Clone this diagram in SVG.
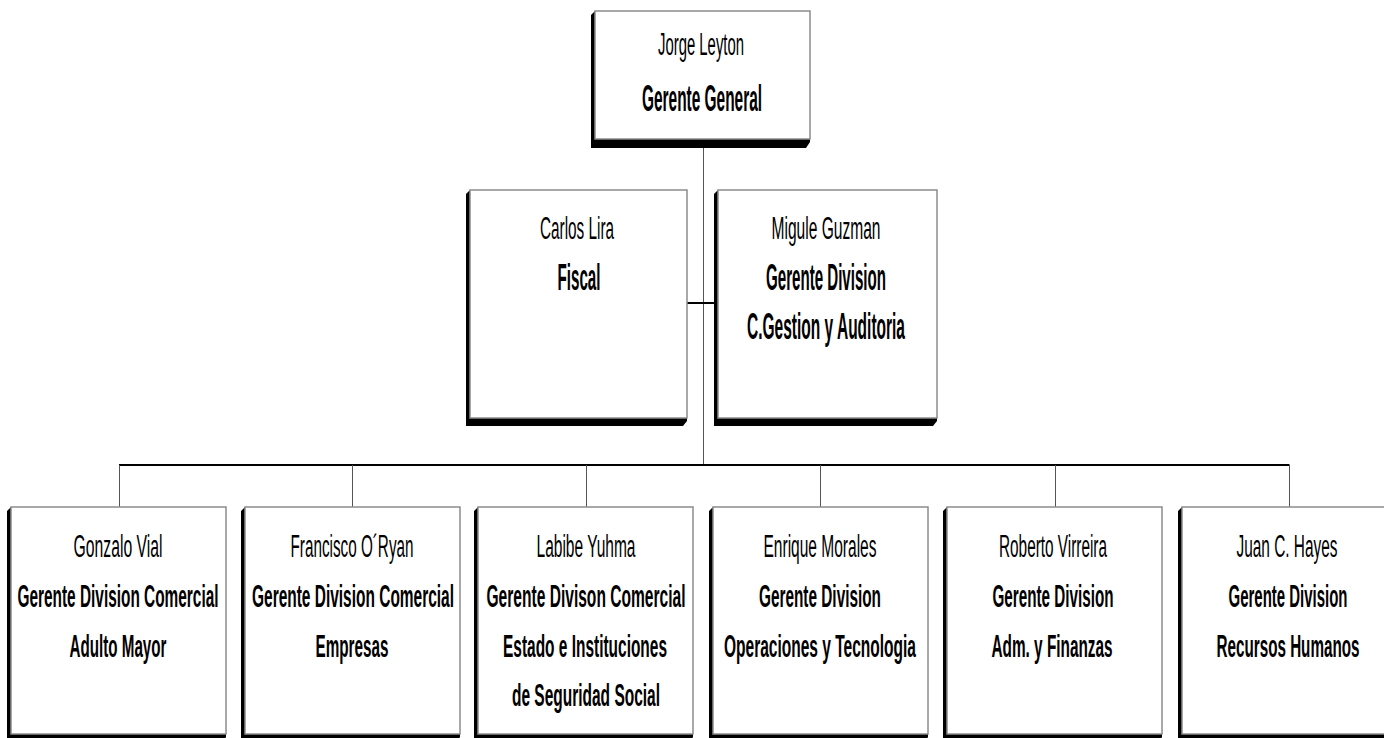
<svg xmlns="http://www.w3.org/2000/svg" width="1384" height="738" viewBox="0 0 1384 738">
  <style>
    .box { fill: #ffffff; stroke: #8c8c8c; stroke-width: 1.5; }
    .shadow { fill: #000000; }
    .name { font-family: "Liberation Sans", Arial, sans-serif; font-size: 31px; fill: #000; text-anchor: middle; }
    .title { font-family: "Liberation Sans", Arial, sans-serif; font-size: 31px; font-weight: bold; fill: #000; text-anchor: middle; }
    .big { font-size: 36px; }
    .bus { stroke: #000; stroke-width: 2; fill: none; }
    .drop { stroke: #555; stroke-width: 1; fill: none; }
  </style>

  <!-- connectors -->
  <g id="connectors">
    <line class="drop" x1="703.5" y1="148" x2="703.5" y2="465"/>
    <line class="bus" x1="687" y1="303" x2="718" y2="303"/>
    <line class="bus" x1="119" y1="465" x2="1289.5" y2="465"/>
    <line class="drop" x1="119.5" y1="465" x2="119.5" y2="507"/>
    <line class="drop" x1="352.5" y1="465" x2="352.5" y2="507"/>
    <line class="drop" x1="586.5" y1="465" x2="586.5" y2="507"/>
    <line class="drop" x1="820.5" y1="465" x2="820.5" y2="507"/>
    <line class="drop" x1="1055.5" y1="465" x2="1055.5" y2="507"/>
    <line class="drop" x1="1289.5" y1="465" x2="1289.5" y2="507"/>
  </g>

  <!-- top level -->
  <g id="node-leyton">
    <polygon class="shadow" points="591,15 595,11 595,139 810,139 810,142 806,148 591,148"/>
    <rect class="box" x="595" y="11" width="215" height="128"/>
    <text class="name" x="701" y="55" textLength="86" lengthAdjust="spacingAndGlyphs">Jorge Leyton</text>
    <text class="title big" x="702" y="111" textLength="120" lengthAdjust="spacingAndGlyphs">Gerente General</text>
  </g>

  <!-- staff level -->
  <g id="node-lira">
    <polygon class="shadow" points="466,194 470,190 470,418 687,418 687,421 683,426 466,426"/>
    <rect class="box" x="470" y="190" width="217" height="228"/>
    <text class="name" x="577" y="239" textLength="74" lengthAdjust="spacingAndGlyphs">Carlos Lira</text>
    <text class="title big" x="579" y="290" textLength="43" lengthAdjust="spacingAndGlyphs">Fiscal</text>
  </g>
  <g id="node-guzman">
    <polygon class="shadow" points="714,194 718,190 718,418 937,418 937,421 933,426 714,426"/>
    <rect class="box" x="718" y="190" width="219" height="228"/>
    <text class="name" x="826" y="239" textLength="109" lengthAdjust="spacingAndGlyphs">Migule Guzman</text>
    <text class="title big" x="826" y="290" textLength="120" lengthAdjust="spacingAndGlyphs">Gerente Division</text>
    <text class="title big" x="826" y="339" textLength="158" lengthAdjust="spacingAndGlyphs">C.Gestion y Auditoria</text>
  </g>

  <!-- division level -->
  <g id="node-vial">
    <polygon class="shadow" points="7,511 11,507 11,734 226,734 226,737 224,740 7,740"/>
    <rect class="box" x="11" y="507" width="215" height="227"/>
    <text class="name" x="118" y="557" textLength="89" lengthAdjust="spacingAndGlyphs">Gonzalo Vial</text>
    <text class="title" x="118" y="607" textLength="201" lengthAdjust="spacingAndGlyphs">Gerente Division Comercial</text>
    <text class="title" x="118" y="657" textLength="97" lengthAdjust="spacingAndGlyphs">Adulto Mayor</text>
  </g>
  <g id="node-oryan">
    <polygon class="shadow" points="241,511 245,507 245,734 460,734 460,737 458,740 241,740"/>
    <rect class="box" x="245" y="507" width="215" height="227"/>
    <text class="name" x="352" y="557" textLength="123" lengthAdjust="spacingAndGlyphs">Francisco O´Ryan</text>
    <text class="title" x="353" y="607" textLength="202" lengthAdjust="spacingAndGlyphs">Gerente Division Comercial</text>
    <text class="title" x="352" y="657" textLength="73" lengthAdjust="spacingAndGlyphs">Empresas</text>
  </g>
  <g id="node-yuhma">
    <polygon class="shadow" points="474,511 478,507 478,734 693,734 693,737 691,740 474,740"/>
    <rect class="box" x="478" y="507" width="215" height="227"/>
    <text class="name" x="586" y="557" textLength="99" lengthAdjust="spacingAndGlyphs">Labibe Yuhma</text>
    <text class="title" x="586" y="607" textLength="199" lengthAdjust="spacingAndGlyphs">Gerente Divison Comercial</text>
    <text class="title" x="585" y="657" textLength="164" lengthAdjust="spacingAndGlyphs">Estado e Instituciones</text>
    <text class="title" x="586" y="706" textLength="148" lengthAdjust="spacingAndGlyphs">de Seguridad Social</text>
  </g>
  <g id="node-morales">
    <polygon class="shadow" points="709,511 713,507 713,734 928,734 928,737 926,740 709,740"/>
    <rect class="box" x="713" y="507" width="215" height="227"/>
    <text class="name" x="820" y="557" textLength="113" lengthAdjust="spacingAndGlyphs">Enrique Morales</text>
    <text class="title" x="820" y="607" textLength="122" lengthAdjust="spacingAndGlyphs">Gerente Division</text>
    <text class="title" x="820" y="657" textLength="192" lengthAdjust="spacingAndGlyphs">Operaciones y Tecnologia</text>
  </g>
  <g id="node-virreira">
    <polygon class="shadow" points="943,511 947,507 947,734 1162,734 1162,737 1160,740 943,740"/>
    <rect class="box" x="947" y="507" width="215" height="227"/>
    <text class="name" x="1053" y="557" textLength="108" lengthAdjust="spacingAndGlyphs">Roberto Virreira</text>
    <text class="title" x="1053" y="607" textLength="121" lengthAdjust="spacingAndGlyphs">Gerente Division</text>
    <text class="title" x="1052" y="657" textLength="121" lengthAdjust="spacingAndGlyphs">Adm. y Finanzas</text>
  </g>
  <g id="node-hayes">
    <polygon class="shadow" points="1178,511 1182,507 1182,734 1397,734 1397,740 1178,740"/>
    <rect class="box" x="1182" y="507" width="215" height="227"/>
    <text class="name" x="1287" y="557" textLength="101" lengthAdjust="spacingAndGlyphs">Juan C. Hayes</text>
    <text class="title" x="1288" y="607" textLength="119" lengthAdjust="spacingAndGlyphs">Gerente Division</text>
    <text class="title" x="1288" y="657" textLength="143" lengthAdjust="spacingAndGlyphs">Recursos Humanos</text>
  </g>
</svg>
